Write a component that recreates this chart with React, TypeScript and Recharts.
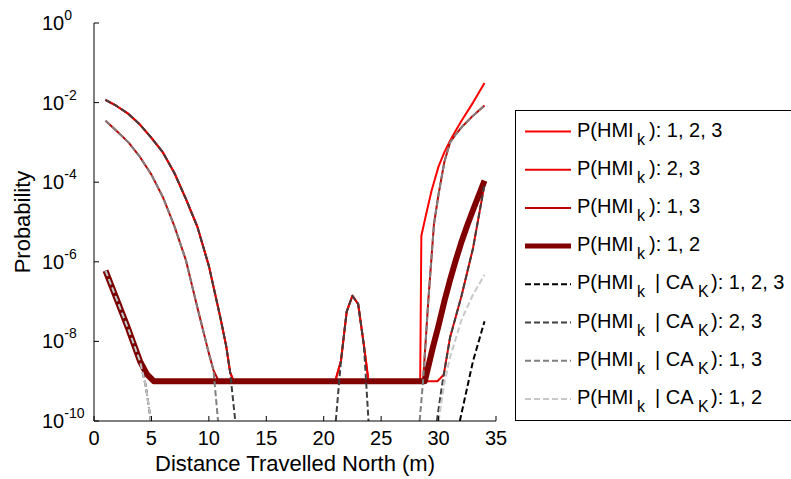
import React from 'react';
import { LineChart, Line, XAxis, YAxis } from 'recharts';

const FONT = '"Liberation Sans", Arial, sans-serif';
const FLOOR = 1e-9;
const AXIS_MIN = 1e-10;

const xTicks = [0, 5, 10, 15, 20, 25, 30, 35];
const yTicks = [1e-10, 1e-8, 1e-6, 1e-4, 1e-2, 1];

// left side curves (distance m, probability)
const upperX = [1, 2, 3, 4, 5, 6, 7, 8, 9, 10, 11, 11.5, 11.85];
const upperY = [1.17e-2, 8.1e-3, 5.2e-3, 2.8e-3, 1.3e-3, 5.6e-4, 1.7e-4, 3.8e-5, 7.6e-6, 7.9e-7, 4.0e-8, 7.9e-9, 1.7e-9];
const lowerX = [1, 2, 3, 4, 5, 6, 7, 8, 9, 10, 10.4];
const lowerY = [3.5e-3, 1.9e-3, 1.0e-3, 4.3e-4, 1.55e-4, 4.2e-5, 7.9e-6, 1.1e-6, 7.1e-8, 5.0e-9, 1.9e-9];
const nearX = [1, 2, 3, 4];
const nearY = [6e-7, 1.1e-7, 2e-8, 3.2e-9];
const humpX = [21.5, 22, 22.5, 23, 23.5];
const humpY = [3.2e-9, 5.6e-8, 1.4e-7, 8.7e-8, 7.9e-9];

// right side curves
const r123X = [28.5, 29, 29.4, 30, 30.5, 31, 31.5, 32, 33, 34];
const r123Y = [4.5e-6, 2e-5, 6.3e-5, 2.5e-4, 5.6e-4, 1.1e-3, 2e-3, 3.5e-3, 1e-2, 3.1e-2];
const r13X = [28.65, 29.1, 29.6, 30, 30.5, 31, 31.5, 32, 33, 34];
const r13Y = [1e-9, 1e-7, 8.9e-6, 5e-5, 3.2e-4, 1e-3, 1.6e-3, 2.4e-3, 4.7e-3, 8.5e-3];
const r12X = [28.8, 29.3, 29.5, 30, 30.5, 31, 31.5, 32, 32.5, 33, 33.5, 34];
const r12Y = [1e-9, 4e-9, 7e-9, 2.5e-8, 1e-7, 3.5e-7, 1.1e-6, 3.2e-6, 8.3e-6, 2e-5, 4.7e-5, 1.1e-4];
const r23X = [31, 32, 33, 34];
const r23Y = [1.26e-8, 1.4e-7, 2.2e-6, 8.9e-5];
const r12caX = [30.5, 31, 32, 33, 34];
const r12caY = [8.9e-10, 4e-9, 3.5e-8, 1.5e-7, 4.7e-7];
const r123caX = [33, 34];
const r123caY = [3.2e-9, 3.2e-8];

type Pt = { x: number; y: number | null };
const seg = (xs: number[], ys: (number | null)[]): Pt[] => xs.map((x, i) => ({ x, y: ys[i] }));
const gap = (x: number): Pt[] => [{ x, y: null }];

const series = [
  {
    name: 'hmi123', color: '#ff0000', width: 2, dash: undefined,
    data: [...seg(upperX, upperY), ...seg([12.15, 21], [FLOOR, FLOOR]), ...seg(humpX, humpY),
      ...seg([23.9, 28.4], [FLOOR, FLOOR]), ...seg(r123X, r123Y)],
  },
  {
    name: 'hmi23', color: '#e60000', width: 2, dash: undefined,
    data: [...seg(upperX, upperY), ...seg([12.15, 21], [FLOOR, FLOOR]), ...seg(humpX, humpY),
      ...seg([23.9, 29.9, 30.45], [FLOOR, FLOOR, 1.45e-9]), ...seg(r23X, r23Y)],
  },
  {
    name: 'hmi13', color: '#c00000', width: 2, dash: undefined,
    data: [...seg(lowerX, lowerY), ...seg([10.85], [FLOOR]), ...seg(r13X, r13Y)],
  },
  {
    name: 'hmi12', color: '#800000', width: 6, dash: undefined,
    data: [...seg(nearX, nearY), ...seg([4.6, 5.2], [1.5e-9, FLOOR]), ...seg(r12X, r12Y)],
  },
  {
    name: 'ca123', color: '#000000', width: 2, dash: '6 3',
    data: [...seg(nearX, nearY), ...seg([4.5, 4.95], [7.9e-10, AXIS_MIN]), ...gap(20),
      ...seg([31.85], [AXIS_MIN]), ...seg(r123caX, r123caY)],
  },
  {
    name: 'ca23', color: '#404040', width: 2, dash: '6 3',
    data: [...seg(upperX, upperY), ...seg([12.3], [AXIS_MIN]), ...gap(16), ...seg([21.05], [AXIS_MIN]),
      ...seg(humpX, humpY), ...seg([23.9], [AXIS_MIN]), ...gap(27),
      ...seg([29.85, 30.3], [AXIS_MIN, 7.9e-10]), ...seg(r23X, r23Y)],
  },
  {
    name: 'ca13', color: '#808080', width: 2, dash: '6 3',
    data: [...seg(lowerX, lowerY), ...seg([10.8], [AXIS_MIN]), ...gap(20),
      ...seg([28.35], [AXIS_MIN]), ...seg(r13X, r13Y)],
  },
  {
    name: 'ca12', color: '#c8c8c8', width: 2, dash: '6 3',
    data: [...seg(nearX, nearY), ...seg([4.5, 4.95], [7.9e-10, AXIS_MIN]), ...gap(20),
      ...seg([30], [AXIS_MIN]), ...seg(r12caX, r12caY)],
  },
];

const legendLabels = [
  { sub: false, tail: '): 1, 2, 3' },
  { sub: false, tail: '): 2, 3' },
  { sub: false, tail: '): 1, 3' },
  { sub: false, tail: '): 1, 2' },
  { sub: true, tail: '): 1, 2, 3' },
  { sub: true, tail: '): 2, 3' },
  { sub: true, tail: '): 1, 3' },
  { sub: true, tail: '): 1, 2' },
];

const PLOT_LEFT = 94;
const PLOT_RIGHT = 496;
const PLOT_TOP = 23;
const PLOT_BOTTOM = 421;

const LeftTick = (props: any) => {
  const { y, payload } = props;
  const exp = Math.round(Math.log10(payload.value));
  return (
    <g>
      <line x1={PLOT_LEFT} x2={PLOT_LEFT + 5} y1={y} y2={y} stroke="#000" />
      <text x={42} y={y + 7} fontSize={20} fontFamily={FONT} fill="#000">
        10<tspan dy={-10} fontSize={14}>{exp}</tspan>
      </text>
    </g>
  );
};

const RightTick = (props: any) => (
  <line x1={PLOT_RIGHT - 5} x2={PLOT_RIGHT} y1={props.y} y2={props.y} stroke="#000" />
);

const BottomTick = (props: any) => {
  const { x, payload } = props;
  return (
    <g>
      <line x1={x} x2={x} y1={PLOT_BOTTOM} y2={PLOT_BOTTOM - 5} stroke="#000" />
      <text x={x} y={445} textAnchor="middle" fontSize={20} fontFamily={FONT} fill="#000">
        {payload.value}
      </text>
    </g>
  );
};

const TopTick = (props: any) => (
  <line x1={props.x} x2={props.x} y1={PLOT_TOP} y2={PLOT_TOP + 5} stroke="#000" />
);

export default function App() {
  const rowTop = 129.5;
  const rowStep = 38.2;
  return (
    <div style={{ position: 'absolute', left: 0, top: 0, width: 791, height: 479, overflow: 'hidden', background: '#fff' }}>
      <LineChart width={791} height={479} margin={{ top: PLOT_TOP, right: 791 - PLOT_RIGHT, bottom: 0, left: 0 }}>
        <XAxis xAxisId={0} dataKey="x" type="number" domain={[0, 35]} ticks={xTicks} interval={0}
          allowDataOverflow height={479 - PLOT_BOTTOM} tickLine={false}
          axisLine={{ stroke: '#000' }} tick={(p: any) => <BottomTick {...p} />} />
        <XAxis xAxisId="top" orientation="top" dataKey="x" type="number" domain={[0, 35]} ticks={xTicks}
          interval={0} allowDataOverflow height={0} tickLine={false} axisLine={{ stroke: '#000' }}
          tick={(p: any) => <TopTick {...p} />} />
        <YAxis yAxisId={0} type="number" scale="log" domain={[1e-10, 1]} ticks={yTicks} interval={0}
          allowDataOverflow width={PLOT_LEFT} tickLine={false} axisLine={{ stroke: '#000' }}
          tick={(p: any) => <LeftTick {...p} />} />
        <YAxis yAxisId="right" orientation="right" type="number" scale="log" domain={[1e-10, 1]}
          ticks={yTicks} interval={0} allowDataOverflow width={0} tickLine={false}
          axisLine={{ stroke: '#000' }} tick={(p: any) => <RightTick {...p} />} />
        {series.map(s => (
          <Line key={s.name} data={s.data} dataKey="y" xAxisId={0} yAxisId={0} type="linear"
            stroke={s.color} strokeWidth={s.width} strokeDasharray={s.dash} strokeLinejoin="round"
            dot={false} activeDot={false} isAnimationActive={false} connectNulls={false} />
        ))}
      </LineChart>
      <svg width={791} height={479} style={{ position: 'absolute', left: 0, top: 0, pointerEvents: 'none' }}
        fontFamily={FONT}>
        <text x={0} y={0} transform={`translate(30, ${(PLOT_TOP + PLOT_BOTTOM) / 2}) rotate(-90)`}
          textAnchor="middle" fontSize={22} fill="#000">Probability</text>
        <text x={(PLOT_LEFT + PLOT_RIGHT) / 2} y={471} textAnchor="middle" fontSize={22} fill="#000">
          Distance Travelled North (m)
        </text>
        <rect x={515.5} y={110.5} width={300} height={310} fill="#fff" stroke="#000" />
        {series.map((s, i) => {
          const cy = rowTop + i * rowStep;
          const base = cy + 7;
          const lab = legendLabels[i];
          return (
            <g key={s.name}>
              <line x1={525} x2={571} y1={cy + 2} y2={cy + 2} stroke={s.color}
                strokeWidth={s.width === 6 ? 5 : 2} strokeDasharray={s.dash} />
              <text x={577} y={base} fontSize={20} fill="#000">P(HMI</text>
              <text x={637} y={base + 8} fontSize={16} fill="#000">k</text>
              {lab.sub ? (
                <>
                  <text x={655} y={base} fontSize={20} fill="#000">| CA</text>
                  <text x={698} y={base + 8} fontSize={16} fill="#000">K</text>
                  <text x={711} y={base} fontSize={20} fill="#000">{lab.tail}</text>
                </>
              ) : (
                <text x={649} y={base} fontSize={20} fill="#000">{lab.tail}</text>
              )}
            </g>
          );
        })}
      </svg>
    </div>
  );
}
